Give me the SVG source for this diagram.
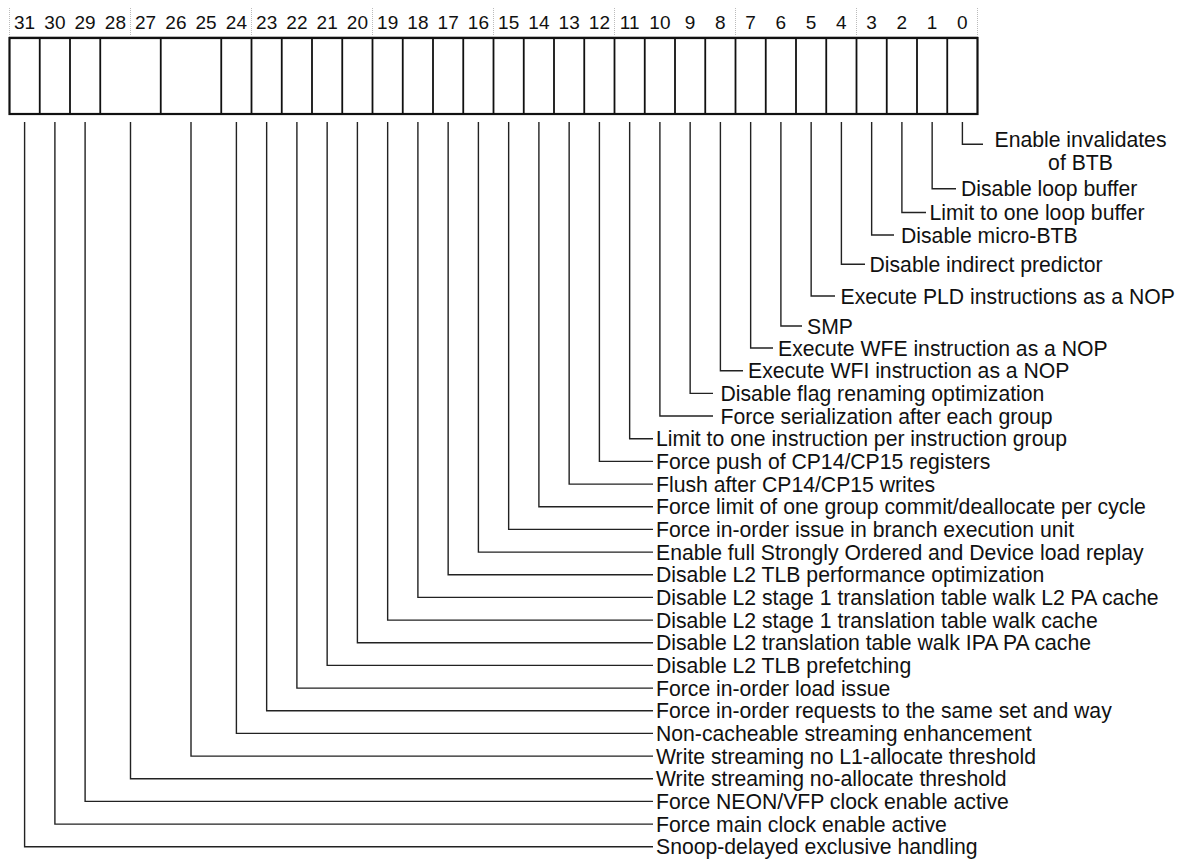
<svg xmlns="http://www.w3.org/2000/svg" width="1190" height="863" viewBox="0 0 1190 863">
<style>
text{font-family:"Liberation Sans",Arial,sans-serif;fill:#111}
.hd{font-size:19px;text-anchor:middle}
.lb{font-size:21.2px}
.grid{stroke:#bbb;stroke-width:1;stroke-dasharray:1 1;fill:none}
.box{stroke:#111;stroke-width:2.2;fill:#fff}
.div{stroke:#111;stroke-width:1.8}
.con path{stroke:#222;stroke-width:1.4;fill:none}
</style>
<rect width="1190" height="863" fill="#fff"/>
<g id="header">
<path class="grid" d="M9.5 8V37M130.5 8V37M251.5 8V37M372.5 8V37M493.5 8V37M614.5 8V37M735.5 8V37M856.5 8V37M977.5 8V37"/>
<path d="M9.5 36.5H977.5" stroke="#ccc" stroke-width="1"/>
<text class="hd" x="24.6" y="29">31</text>
<text class="hd" x="54.9" y="29">30</text>
<text class="hd" x="85.1" y="29">29</text>
<text class="hd" x="115.4" y="29">28</text>
<text class="hd" x="145.6" y="29">27</text>
<text class="hd" x="175.9" y="29">26</text>
<text class="hd" x="206.1" y="29">25</text>
<text class="hd" x="236.4" y="29">24</text>
<text class="hd" x="266.65" y="29">23</text>
<text class="hd" x="296.9" y="29">22</text>
<text class="hd" x="327.15" y="29">21</text>
<text class="hd" x="357.4" y="29">20</text>
<text class="hd" x="387.65" y="29">19</text>
<text class="hd" x="417.9" y="29">18</text>
<text class="hd" x="448.15" y="29">17</text>
<text class="hd" x="478.4" y="29">16</text>
<text class="hd" x="508.65" y="29">15</text>
<text class="hd" x="538.9" y="29">14</text>
<text class="hd" x="569.15" y="29">13</text>
<text class="hd" x="599.4" y="29">12</text>
<text class="hd" x="629.65" y="29">11</text>
<text class="hd" x="659.9" y="29">10</text>
<text class="hd" x="690.15" y="29">9</text>
<text class="hd" x="720.4" y="29">8</text>
<text class="hd" x="750.65" y="29">7</text>
<text class="hd" x="780.9" y="29">6</text>
<text class="hd" x="811.15" y="29">5</text>
<text class="hd" x="841.4" y="29">4</text>
<text class="hd" x="871.65" y="29">3</text>
<text class="hd" x="901.9" y="29">2</text>
<text class="hd" x="932.15" y="29">1</text>
<text class="hd" x="962.4" y="29">0</text>
</g>
<g id="register">
<rect class="box" x="9.5" y="38" width="968" height="76"/>
<path class="div" d="M39.75 38V114M70 38V114M100.25 38V114M160.75 38V114M221.25 38V114M251.5 38V114M281.75 38V114M312 38V114M342.25 38V114M372.5 38V114M402.75 38V114M433 38V114M463.25 38V114M493.5 38V114M523.75 38V114M554 38V114M584.25 38V114M614.5 38V114M644.75 38V114M675 38V114M705.25 38V114M735.5 38V114M765.75 38V114M796 38V114M826.25 38V114M856.5 38V114M886.75 38V114M917 38V114M947.25 38V114"/>
</g>
<g id="connectors" class="con">
<path d="M962.4 122V144.3H983"/>
<path d="M932.15 122V188.7H956"/>
<path d="M901.9 122V212.5H926"/>
<path d="M871.65 122V235H894"/>
<path d="M841.4 122V264.3H865"/>
<path d="M811.15 122V296H835"/>
<path d="M780.9 122V326H802"/>
<path d="M750.65 122V348H773"/>
<path d="M720.4 122V370.7H743"/>
<path d="M690.15 122V393.4H713"/>
<path d="M659.9 122V416H713"/>
<path d="M629.65 122V438.7H653"/>
<path d="M599.4 122V461.4H653"/>
<path d="M569.15 122V484.1H653"/>
<path d="M538.9 122V506.7H653"/>
<path d="M508.65 122V529.4H653"/>
<path d="M478.4 122V552.1H653"/>
<path d="M448.15 122V574.7H653"/>
<path d="M417.9 122V597.4H653"/>
<path d="M387.65 122V620.1H653"/>
<path d="M357.4 122V642.7H653"/>
<path d="M327.15 122V665.4H653"/>
<path d="M296.9 122V688.1H653"/>
<path d="M266.65 122V710.8H653"/>
<path d="M236.4 122V733.4H653"/>
<path d="M191 122V756.1H653"/>
<path d="M130.5 122V778.8H653"/>
<path d="M85.1 122V801.4H653"/>
<path d="M54.9 122V824.1H653"/>
<path d="M24.6 122V846.8H653"/>
</g>
<g id="bit0"><text class="lb" text-anchor="middle" x="1080.5" y="146.5">Enable invalidates</text><text class="lb" text-anchor="middle" x="1080.5" y="170">of BTB</text></g>
<g id="bit1"><text class="lb" x="961" y="196.2">Disable loop buffer</text></g>
<g id="bit2"><text class="lb" x="929.5" y="220">Limit to one loop buffer</text></g>
<g id="bit3"><text class="lb" x="901" y="242.5">Disable micro-BTB</text></g>
<g id="bit4"><text class="lb" x="869.5" y="271.8">Disable indirect predictor</text></g>
<g id="bit5"><text class="lb" x="840.5" y="303.5">Execute PLD instructions as a NOP</text></g>
<g id="bit6"><text class="lb" x="807" y="333.5">SMP</text></g>
<g id="bit7"><text class="lb" x="778" y="355.5">Execute WFE instruction as a NOP</text></g>
<g id="bit8"><text class="lb" x="748" y="378.2">Execute WFI instruction as a NOP</text></g>
<g id="bit9"><text class="lb" x="720.5" y="400.9">Disable flag renaming optimization</text></g>
<g id="bit10"><text class="lb" x="720.5" y="423.5">Force serialization after each group</text></g>
<g id="bit11"><text class="lb" x="656" y="446.2">Limit to one instruction per instruction group</text></g>
<g id="bit12"><text class="lb" x="656" y="468.9">Force push of CP14/CP15 registers</text></g>
<g id="bit13"><text class="lb" x="656" y="491.6">Flush after CP14/CP15 writes</text></g>
<g id="bit14"><text class="lb" x="656" y="514.2">Force limit of one group commit/deallocate per cycle</text></g>
<g id="bit15"><text class="lb" x="656" y="536.9">Force in-order issue in branch execution unit</text></g>
<g id="bit16"><text class="lb" x="656" y="559.6">Enable full Strongly Ordered and Device load replay</text></g>
<g id="bit17"><text class="lb" x="656" y="582.2">Disable L2 TLB performance optimization</text></g>
<g id="bit18"><text class="lb" x="656" y="604.9">Disable L2 stage 1 translation table walk L2 PA cache</text></g>
<g id="bit19"><text class="lb" x="656" y="627.6">Disable L2 stage 1 translation table walk cache</text></g>
<g id="bit20"><text class="lb" x="656" y="650.2">Disable L2 translation table walk IPA PA cache</text></g>
<g id="bit21"><text class="lb" x="656" y="672.9">Disable L2 TLB prefetching</text></g>
<g id="bit22"><text class="lb" x="656" y="695.6">Force in-order load issue</text></g>
<g id="bit23"><text class="lb" x="656" y="718.3">Force in-order requests to the same set and way</text></g>
<g id="bit24"><text class="lb" x="656" y="740.9">Non-cacheable streaming enhancement</text></g>
<g id="bits26-25"><text class="lb" x="656" y="763.6">Write streaming no L1-allocate threshold</text></g>
<g id="bits28-27"><text class="lb" x="656" y="786.3">Write streaming no-allocate threshold</text></g>
<g id="bit29"><text class="lb" x="656" y="808.9">Force NEON/VFP clock enable active</text></g>
<g id="bit30"><text class="lb" x="656" y="831.6">Force main clock enable active</text></g>
<g id="bit31"><text class="lb" x="656" y="854.3">Snoop-delayed exclusive handling</text></g>
</svg>
